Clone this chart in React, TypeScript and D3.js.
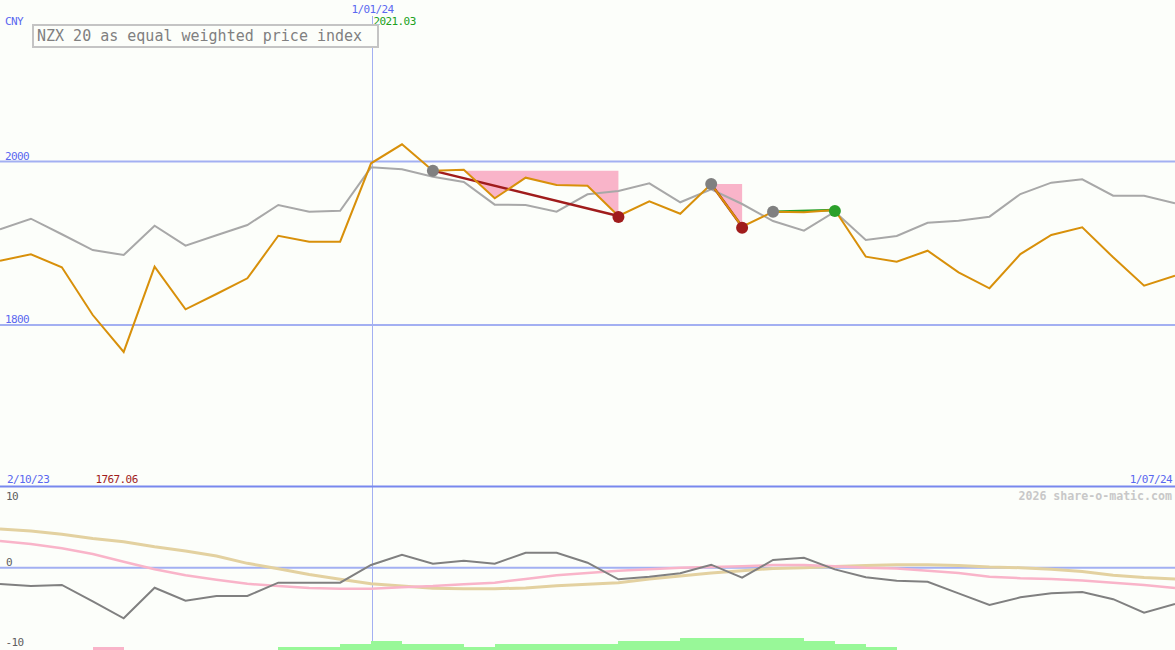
import React from "react";
import * as d3 from "d3";

const W = 1175;
const H = 650;

// Weekly closes, NZX 20 equal weighted (CNY)
const priceValues = [1878.7, 1886.5, 1870.6, 1812.2, 1767.06, 1871.3, 1819.2, 1837.9, 1857.1, 1909.2, 1901.9, 1901.9, 1997.8, 2021.03, 1988.8, 1990, 1955, 1980.2, 1971.3, 1970.4, 1933.3, 1951.3, 1936.1, 1972.5, 1920.3, 1938.6, 1938.0, 1940.7, 1883.6, 1877.4, 1890.9, 1864.4, 1844.9, 1886.8, 1910.1, 1919.5, 1882.8, 1848.1, 1860.3];
const compareValues = [1917, 1930, 1911, 1891.7, 1885.6, 1921.5, 1897, 1909.7, 1922.3, 1946.8, 1938.6, 1939.8, 1992.9, 1990.5, 1981.4, 1974.9, 1947.2, 1946.8, 1938.6, 1959.9, 1963.9, 1973.3, 1950.1, 1966, 1948, 1927.2, 1915.4, 1938.6, 1904, 1908.9, 1925.1, 1927.6, 1932.5, 1960.2, 1974.1, 1978.2, 1958.2, 1958.2, 1948.9];
const momentumValues = [-2.17, -2.44, -2.3, -4.5, -6.75, -2.67, -4.4, -3.77, -3.77, -2, -2, -2, 0.36, 1.73, 0.53, 0.93, 0.53, 2, 2, 0.67, -1.55, -1.2, -0.75, 0.4, -1.33, 1.03, 1.33, -0.22, -1.28, -1.73, -1.87, -3.42, -4.97, -3.95, -3.42, -3.24, -4.2, -6, -4.84];
const fastAvgValues = [3.56, 3.16, 2.58, 1.82, 0.8, -0.2, -1.0, -1.6, -2.15, -2.45, -2.7, -2.8, -2.8, -2.6, -2.45, -2.2, -2.0, -1.5, -1.0, -0.7, -0.4, -0.2, 0.0, 0.1, 0.2, 0.35, 0.35, 0.2, 0.0, -0.1, -0.4, -0.7, -1.2, -1.4, -1.5, -1.7, -2.0, -2.3, -2.7];
const slowAvgValues = [5.16, 4.9, 4.45, 3.9, 3.47, 2.8, 2.23, 1.56, 0.58, -0.13, -0.9, -1.55, -2.13, -2.44, -2.75, -2.8, -2.8, -2.7, -2.4, -2.2, -2.0, -1.5, -1.1, -0.7, -0.4, -0.1, 0.0, 0.15, 0.3, 0.4, 0.4, 0.3, 0.1, 0.0, -0.2, -0.5, -1.0, -1.3, -1.5];
const barValues = [0, 0, 0, -1, 0, 0, 0, 0, 0, 1, 1, 2, 3, 2, 2, 1, 2, 2, 2, 2, 3, 3, 4, 4, 4, 4, 3, 2, 1, 0, 0, 0, 0, 0, 0, 0, 0, 0];

// trades: entry index -> exit index
const tradeEntries = [14, 23, 25];
const tradeExits = [20, 24, 27];
const tradeWins = [false, false, true];

const priceTicks = [2000, 1800];
const oscTicks = [10, 0, -10];
const markerIndex = 12;
const markerLabel = "1/01/24";
const startLabel = "2/10/23";
const endLabel = "1/07/24";
const minLabel = "1767.06";
const maxLabel = "2021.03";
const title = "NZX 20 as equal weighted price index";

const FONT = "'DejaVu Sans Mono', monospace";
const small = { fontFamily: FONT, fontSize: 11, letterSpacing: -0.6 } as const;

export default function App() {
  const x = d3.scaleLinear().domain([0, priceValues.length - 1]).range([0, W]);
  const y = d3.scaleLinear().domain([1800, 2000]).range([325, 161.5]);
  const yo = d3.scaleLinear().domain([-10, 10]).range([642.7, 492.7]);
  const yb = d3.scaleLinear().domain([0, 4]).range([0, 12]);

  const priceLine = d3.line<number>().x((_, i) => x(i)).y((d) => y(d));
  const oscLine = d3.line<number>().x((_, i) => x(i)).y((d) => yo(d));

  const drawdowns = tradeEntries.map((e, k) => {
    const ex = tradeExits[k];
    const level = priceValues[e];
    const idx = d3.range(e, ex + 1);
    if (tradeWins[k]) return null;
    const area = d3
      .area<number>()
      .x((i) => x(i))
      .y0(() => y(level))
      .y1((i) => y(Math.min(level, priceValues[i])));
    return area(idx);
  });

  const vx = Math.round(x(markerIndex)) + 1.5;

  return (
    <svg width={W} height={H} style={{ position: "absolute", left: 0, top: 0, background: "#fcfefa" }}>
      <rect x={0} y={0} width={W} height={H} fill="#fcfefa" />
      {/* drawdown areas */}
      {drawdowns.map((d, k) => (d ? <path key={k} d={d} fill="#f9b4c9" stroke="none" /> : null))}
      {/* grid */}
      {priceTicks.map((t) => (
        <g key={t}>
          <line x1={0} x2={W} y1={y(t)} y2={y(t)} stroke="#a3b0f2" strokeWidth={2} />
          <text x={5} y={y(t) - 2} {...small} fill="#5a68f0">{t}</text>
        </g>
      ))}
      <line x1={0} x2={W} y1={yo(0)} y2={yo(0)} stroke="#a3b0f2" strokeWidth={2} />
      <line x1={vx} x2={vx} y1={16} y2={H} stroke="#a3b0f2" strokeWidth={1} shapeRendering="crispEdges" />
      <line x1={0} x2={W} y1={486.5} y2={486.5} stroke="#7888ee" strokeWidth={2} />

      {/* bars */}
      {barValues.map((v, i) =>
        v === 0 ? null : (
          <rect key={i} x={x(i)} y={H - yb(Math.abs(v))} width={x(i + 1) - x(i)} height={yb(Math.abs(v))} fill={v > 0 ? "#98f898" : "#f9b4c9"} shapeRendering="crispEdges" />
        )
      )}

      {/* oscillator lines */}
      <path d={oscLine(slowAvgValues) || ""} fill="none" stroke="#e3d1a0" strokeWidth={3} />
      <path d={oscLine(fastAvgValues) || ""} fill="none" stroke="#f9b4c9" strokeWidth={2.5} />
      <path d={oscLine(momentumValues) || ""} fill="none" stroke="#808080" strokeWidth={2} />

      {/* comparison */}
      <path d={priceLine(compareValues) || ""} fill="none" stroke="#a8a8a8" strokeWidth={2} />

      {/* trade lines */}
      {tradeEntries.map((e, k) => (
        <line key={k} x1={x(e)} y1={y(priceValues[e])} x2={x(tradeExits[k])} y2={y(priceValues[tradeExits[k]])}
          stroke={tradeWins[k] ? "#2aa02a" : "#a01c1c"} strokeWidth={2.5} />
      ))}

      {/* price */}
      <path d={priceLine(priceValues) || ""} fill="none" stroke="#d8900a" strokeWidth={2} />

      {/* markers */}
      {tradeEntries.map((e, k) => (
        <circle key={"e" + k} cx={x(e)} cy={y(priceValues[e])} r={6} fill="#808080" />
      ))}
      {tradeExits.map((e, k) => (
        <circle key={"x" + k} cx={x(e)} cy={y(priceValues[e]) + 1} r={6} fill={tradeWins[k] ? "#2aa02a" : "#a01c1c"} />
      ))}

      {/* labels */}
      <text x={5} y={24.5} {...small} fill="#5a68f0">CNY</text>
      <text x={vx} y={13} textAnchor="middle" {...small} fill="#5a68f0">{markerLabel}</text>
      <text x={vx + 1} y={25} {...small} fill="#20a020">{maxLabel}</text>
      <rect x={33} y={25} width={345} height={22} fill="#fcfefa" stroke="#c4c4c4" strokeWidth={2} />
      <text x={37} y={41} fontFamily={FONT} fontSize={15} fill="#808080">{title}</text>

      <text x={7} y={483} {...small} fill="#5a68f0">{startLabel}</text>
      <text x={95.5} y={483} {...small} fill="#a01c1c">{minLabel}</text>
      <text x={1172} y={483} textAnchor="end" {...small} fill="#5a68f0">{endLabel}</text>
      <text x={1172} y={500} textAnchor="end" fontFamily={FONT} fontSize={11.6} fontWeight="bold" fill="#c8c8c8">2026 share-o-matic.com</text>

      {oscTicks.map((t) => (
        <text key={t} x={t < 0 ? 5.5 : 6} y={t === 10 ? 500 : t === 0 ? 566 : 646} {...small} fill="#606060">{t}</text>
      ))}
    </svg>
  );
}
